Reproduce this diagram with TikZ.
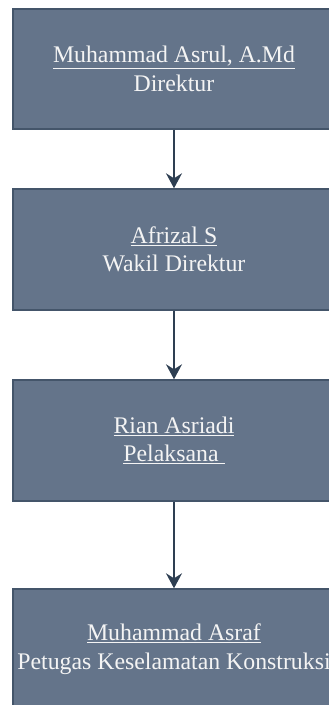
\documentclass[tikz,border=0pt]{standalone}
\usepackage{fontspec}
\setmainfont{Liberation Serif}
\usetikzlibrary{arrows.meta}
\definecolor{boxfill}{HTML}{64748A}
\definecolor{boxline}{HTML}{44556A}
\definecolor{arrowcol}{HTML}{2E3F52}
\definecolor{txtcol}{HTML}{F4F4F4}
\tikzset{
  orgbox/.style={draw=boxline, line width=1.4pt, fill=boxfill, text=txtcol,
    minimum width=322pt, inner sep=0pt, align=center,
    font=\fontsize{23.8pt}{28.5pt}\selectfont},
  link/.style={draw=arrowcol, line width=1.5pt,
    -{Stealth[length=15pt,width=16pt,inset=5pt]}}
}
\begin{document}
\begin{tikzpicture}[x=1pt,y=-1pt]
\useasboundingbox (0,0) rectangle (329,705);
\clip (0,0) rectangle (329,705);
\node[orgbox, minimum height=120pt] (a) at (174,69) {\underline{Muhammad Asrul, A.Md}\\Direktur};
\node[orgbox, minimum height=121pt] (b) at (174,249.5) {\underline{Afrizal S}\\Wakil Direktur};
\node[orgbox, minimum height=121pt] (c) at (174,440.5) {\underline{Rian Asriadi}\\\underline{Pelaksana\ }};
\node[orgbox, minimum height=120pt] (d) at (174,649) {\underline{Muhammad Asraf}\\Petugas Keselamatan Konstruksi};
\draw[link] (a.south) -- (b.north);
\draw[link] (b.south) -- (c.north);
\draw[link] (c.south) -- (d.north);
\end{tikzpicture}
\end{document}
